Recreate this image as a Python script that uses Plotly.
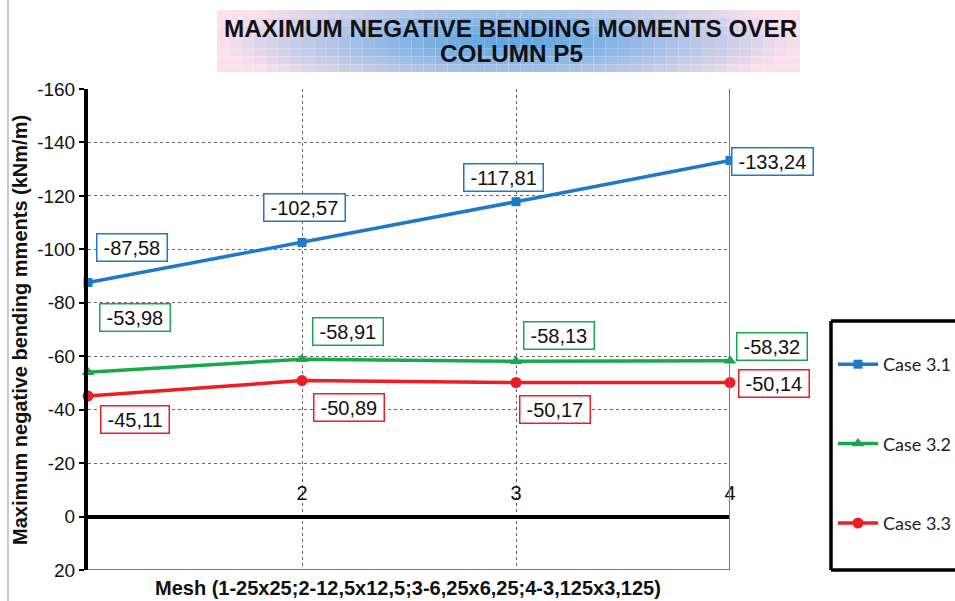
import plotly.graph_objects as go

mesh = [1, 2, 3, 4]
tick_vals = [2, 3, 4]
tick_text = ["2", "3", "4"]
series_names = ["Case 3.1", "Case 3.2", "Case 3.3"]
case31 = [-87.58, -102.57, -117.81, -133.24]
case32 = [-53.98, -58.91, -58.13, -58.32]
case33 = [-45.11, -50.89, -50.17, -50.14]
y_ticks = [-160, -140, -120, -100, -80, -60, -40, -20, 0, 20]
y_tick_text = ["-160", "-140", "-120", "-100", "-80", "-60", "-40", "-20", "0", "20"]

FW, FH = 955, 601
# plot-area geometry in screen pixels
L, R, T, B = 88, 730, 89, 570
W, H = R - L, B - T


def px(x):
    return (x - L) / W


def py(y):
    return (B - y) / H


colors = ["#1f78c8", "#1aa84c", "#ee1c24"]
symbols = ["square", "triangle-up", "circle"]
msizes = [9, 11, 11]
data = [case31, case32, case33]

# label offsets (pixels) for each point's value box
shifts = [
    [(44, 35), (2, 35), (-13, 24), (42, -1)],
    [(47, 55), (46, 28), (43, 26), (42, 14)],
    [(47, -23), (47, -27), (39, -27), (44, -1)],
]

fig = go.Figure()
for i, (name, vals) in enumerate(zip(series_names, data)):
    fig.add_trace(go.Scatter(
        x=mesh, y=vals, name=name, mode="lines+markers",
        line=dict(color=colors[i], width=3.5),
        marker=dict(symbol=symbols[i], size=msizes[i], color=colors[i]),
        cliponaxis=False, legendgroup=name,
    ))

annotations = []
for i, vals in enumerate(data):
    for j, v in enumerate(vals):
        dx, dy = shifts[i][j]
        annotations.append(dict(
            x=mesh[j], y=v, xref="x", yref="y", showarrow=False,
            text="\u2009" + ("%.2f" % v).replace(".", ",") + "\u2009",
            xshift=dx, yshift=dy,
            font=dict(family="Liberation Sans, Arial", size=20, color="#111"),
            bgcolor="white", bordercolor=colors[i], borderwidth=1.5, borderpad=2,
        ))

tfont = "Liberation Sans Narrow, Liberation Sans, Arial"
# axis titles
annotations.append(dict(
    x=px(20), y=py(330), xref="paper", yref="paper", showarrow=False,
    text="<b>Maximum negative bending mments (kNm/m)</b>", textangle=-90,
    font=dict(family=tfont, size=20, color="#111"),
    xanchor="center", yanchor="middle",
))
annotations.append(dict(
    x=px(408), y=py(588), xref="paper", yref="paper", showarrow=False,
    text="<b>Mesh (1-25x25;2-12,5x12,5;3-6,25x6,25;4-3,125x3,125)</b>",
    font=dict(family=tfont, size=20, color="#111"),
    xanchor="center", yanchor="middle",
))
# title (two lines)
annotations.append(dict(
    x=px(511), y=py(28), xref="paper", yref="paper", showarrow=False,
    text="<b>MAXIMUM NEGATIVE BENDING MOMENTS OVER</b>",
    font=dict(family=tfont, size=24.3, color="#111"),
    xanchor="center", yanchor="middle",
))
annotations.append(dict(
    x=px(511), y=py(54), xref="paper", yref="paper", showarrow=False,
    text="<b>COLUMN P5</b>",
    font=dict(family=tfont, size=24.3, color="#111"),
    xanchor="center", yanchor="middle",
))

shapes = []
# gradient title box
bx0, bx1, by0, by1 = 217, 800, 10, 72
nc, nr = 48, 8
blue = (92, 166, 226)
pink = (252, 224, 236)
cx, cy = (bx0 + bx1) / 2, (by0 + by1) / 2
for c in range(nc):
    for r in range(nr):
        x0 = bx0 + (bx1 - bx0) * c / nc
        x1 = bx0 + (bx1 - bx0) * (c + 1) / nc
        y0 = by0 + (by1 - by0) * r / nr
        y1 = by0 + (by1 - by0) * (r + 1) / nr
        mx, my = (x0 + x1) / 2, (y0 + y1) / 2
        t = (((mx - cx) / ((bx1 - bx0) / 2)) ** 2 + ((my - cy) / ((by1 - by0) / 2)) ** 2 * 0.35) ** 0.5
        t = min(1.0, t) ** 1.3
        col = tuple(int(blue[k] + (pink[k] - blue[k]) * t) for k in range(3))
        shapes.append(dict(type="rect", xref="paper", yref="paper",
                           x0=px(x0), x1=px(x1), y0=py(y1), y1=py(y0),
                           line=dict(width=0), fillcolor="rgb(%d,%d,%d)" % col, layer="below"))

# plot border right / bottom
shapes.append(dict(type="line", xref="x", yref="y", x0=4, x1=4, y0=20, y1=-160,
                   line=dict(color="#777", width=2)))
shapes.append(dict(type="line", xref="x", yref="y", x0=1, x1=4, y0=20, y1=20,
                   line=dict(color="#777", width=2)))
# legend box (open on the right: it runs past the picture edge)
lb_x0, lb_x1, lb_y0, lb_y1 = 831, 960, 321, 570
for (a, b, c, d) in [(lb_x0, lb_y0, lb_x1, lb_y0), (lb_x0, lb_y0, lb_x0, lb_y1),
                     (lb_x0, lb_y1, lb_x1, lb_y1)]:
    shapes.append(dict(type="line", xref="paper", yref="paper",
                       x0=px(a), y0=py(b), x1=px(c), y1=py(d),
                       line=dict(color="black", width=3.5)))
# outer frame line on the left
shapes.append(dict(type="line", xref="paper", yref="paper",
                   x0=px(8), x1=px(8), y0=py(0), y1=py(601),
                   line=dict(color="#999", width=1)))

fig.update_layout(
    width=FW, height=FH,
    margin=dict(l=L, r=FW - R, t=T, b=FH - B, autoexpand=False),
    paper_bgcolor="white", plot_bgcolor="white",
    showlegend=True,
    legend=dict(x=px(833), y=py(346), xanchor="left", yanchor="top",
                font=dict(family="Lato, Open Sans", size=18, color="#222"),
                tracegroupgap=53, bgcolor="rgba(0,0,0,0)", borderwidth=0,
                traceorder="grouped", itemwidth=40),
    annotations=annotations, shapes=shapes,
    xaxis=dict(range=[1, 4], tickvals=tick_vals, ticktext=tick_text,
               side="top", anchor="free", position=20 / 180,
               showline=False, zeroline=False,
               showgrid=True, gridcolor="#666", griddash="dot", gridwidth=1,
               tickfont=dict(family=tfont, size=20, color="#111"),
               ticks="", ticklabelstandoff=13),
    yaxis=dict(range=[20, -160], tickvals=y_ticks, ticktext=y_tick_text,
               showgrid=True, gridcolor="#666",
               griddash="dot", gridwidth=1,
               zeroline=True, zerolinecolor="black", zerolinewidth=4,
               showline=True, linecolor="black", linewidth=4,
               ticks="outside", ticklen=5, tickwidth=2, tickcolor="black",
               tickfont=dict(family="Liberation Sans, Arial", size=19, color="#111")),
)

fig.write_html(
    "out.html",
    config={"displayModeBar": False},
    post_script="document.body.style.margin='0';document.body.style.overflow='hidden';",
)
